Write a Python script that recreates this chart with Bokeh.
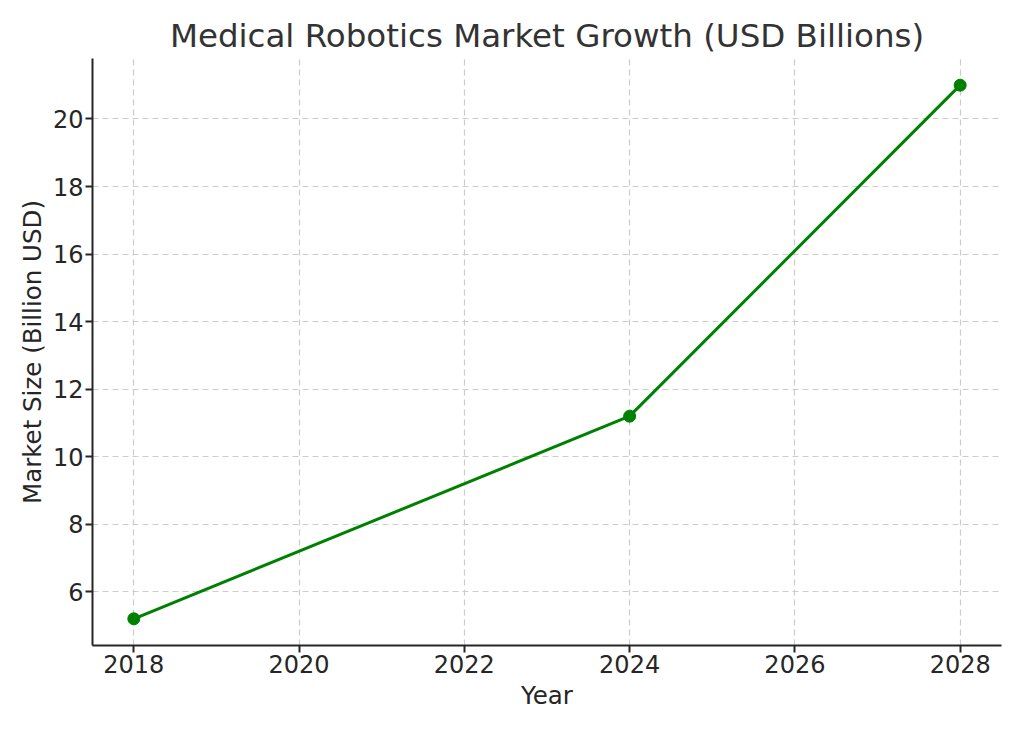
from bokeh.plotting import figure
from bokeh.models import Range1d, FixedTicker, Title
from bokeh.embed import file_html
from bokeh.resources import INLINE

years = [2018, 2024, 2028]
market_size = [5.2, 11.2, 21.0]
x_ticks = [2018, 2020, 2022, 2024, 2026, 2028]
y_ticks = [6, 8, 10, 12, 14, 16, 18, 20]

FONT = "DejaVu Sans"
TXT = "#262626"

p = figure(frame_width=909, frame_height=587, output_backend="svg",
           toolbar_location=None, x_range=Range1d(2017.5, 2028.5),
           y_range=Range1d(4.41, 21.79),
           min_border_left=92, min_border_right=14, min_border_top=58,
           min_border_bottom=78, background_fill_color="white",
           border_fill_color="white", outline_line_color=None)

p.title = Title(text="Medical Robotics Market Growth (USD Billions)", align="center",
                text_font=FONT, text_font_size="32.5px", text_color="#333333",
                text_font_style="normal", offset=0, standoff=8)

p.line(years, market_size, line_color="green", line_width=3)
p.scatter(years, market_size, size=12, fill_color="green", line_color="green")

for ax in (p.xaxis, p.yaxis):
    ax.axis_line_color = TXT
    ax.axis_line_width = 2
    ax.major_tick_line_color = TXT
    ax.major_tick_line_width = 2
    ax.major_tick_out = 7
    ax.major_tick_in = 0
    ax.minor_tick_line_color = None
    ax.major_label_text_font = FONT
    ax.major_label_text_font_size = "24px"
    ax.major_label_text_color = TXT
    ax.axis_label_text_font = FONT
    ax.axis_label_text_font_size = "24.5px"
    ax.axis_label_text_color = TXT
    ax.axis_label_text_font_style = "normal"

p.xaxis.ticker = FixedTicker(ticks=x_ticks)
p.yaxis.ticker = FixedTicker(ticks=y_ticks)
p.xaxis.axis_label = "Year"
p.yaxis.axis_label = "Market Size (Billion USD)"
p.xaxis.major_label_standoff = 2
p.yaxis.major_label_standoff = 2
p.xaxis.axis_label_standoff = 5
p.yaxis.axis_label_standoff = 3

for g in (p.xgrid, p.ygrid):
    g.grid_line_color = "#cccccc"
    g.grid_line_dash = "6 4"
    g.grid_line_width = 1.2

open("out.html", "w").write(file_html(p, INLINE))
